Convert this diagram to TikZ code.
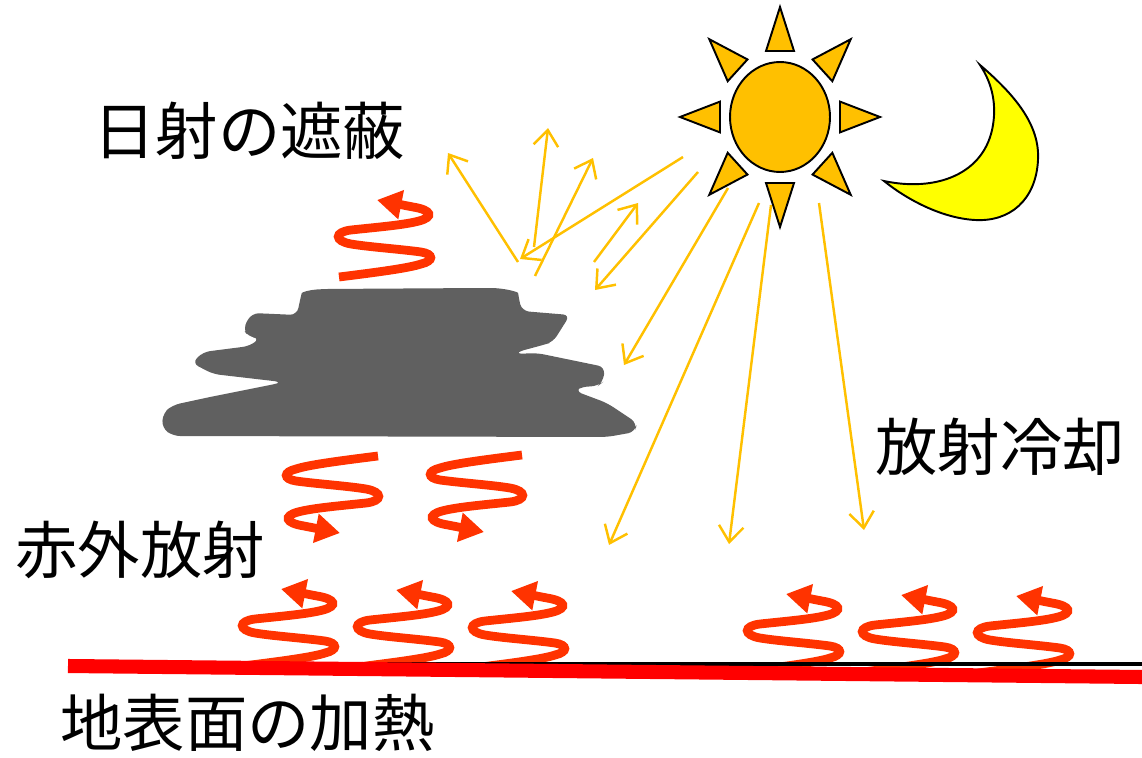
\documentclass[tikz,border=0pt]{standalone}
\usepackage{fontspec}
\newfontfamily\jpfont{Noto Sans CJK JP}
\usetikzlibrary{arrows.meta}
\definecolor{sunorange}{HTML}{FFC000}
\definecolor{moonyellow}{HTML}{FFFF00}
\definecolor{irred}{HTML}{FF3300}
\definecolor{cloudgray}{HTML}{606060}
\tikzset{jptext/.style={inner sep=0pt, anchor=west, font=\jpfont\fontsize{35.5}{40}\selectfont}}
\tikzset{ray/.style={draw=sunorange, line width=1.4pt, -{Straight Barb[length=9pt,width=14pt]}}}
\tikzset{sunpart/.style={draw=black, fill=sunorange, line width=1.1pt, line join=miter}}
\tikzset{irline/.style={draw=irred, line width=5pt, line cap=butt, -{Triangle[length=14pt,width=16pt]}}}
\tikzset{irwave/.pic={
    \draw[irline] (0,0) .. controls (40,-5) and (70,-9) .. (82,-13) .. controls (95,-16) and (95,-23) .. (82,-25)
        .. controls (60,-28) and (30,-30) .. (12,-33) .. controls (-5,-36) and (-5,-45) .. (12,-47)
        .. controls (40,-50) and (65,-52) .. (80,-56) .. controls (95,-60) and (93,-67) .. (74,-70) -- (38,-77);
}}

\begin{document}
\begin{tikzpicture}[x=0.02cm, y=-0.02cm]
    \useasboundingbox (0,0) rectangle (1142,757);

    % cloud
    \fill[cloudgray, rounded corners=4pt] (297,315) -- (300,300) .. controls (302,292) and (310,290) .. (323,289)
        -- (483,288) .. controls (505,288) and (518,292) .. (519,300) -- (522,311) -- (570,315)
        -- (553,342) -- (543,345) -- (517,352) -- (515,354) -- (537,353) -- (605,367) -- (603,382)
        -- (598,386) -- (580,387) -- (575,391) -- (607,403) -- (637,423) -- (635,432) -- (607,437)
        -- (173,436) -- (162,428) -- (163,413) -- (173,405) -- (210,397) -- (280,383) -- (282,382)
        -- (213,374) -- (192,363) -- (203,352) -- (250,346) -- (260,338) -- (248,337) -- (243,328)
        -- (252,313) -- cycle;

    % sun
    \foreach \a in {0,45,...,315}
        \draw[sunpart, shift={(780,117)}, yscale=1.1, rotate=\a] (100,0) -- (60,14) -- (60,-14) -- cycle;
    \draw[sunpart] (780,117) ellipse [x radius=1cm, y radius=1.1cm];

    % moon
    \draw[fill=moonyellow, line width=1.1pt] (980,65) .. controls (1015,95) and (1040,125) .. (1038,160)
        .. controls (1036,200) and (1010,222) .. (975,220) .. controls (940,218) and (905,198) .. (884,181)
        .. controls (935,192) and (985,175) .. (993,125) .. controls (997,100) and (990,80) .. (980,65) -- cycle;

    % sunlight and reflections
    \coordinate (refl) at (518,262);
    \draw[ray] (683,157) -- (520,259);
    \draw[ray] (refl) -- (448,153);
    \draw[ray] (534,247) -- (548,128);
    \draw[ray] (535,276) -- (593,158);
    \draw[ray] (594,262) -- (638,203);
    \draw[ray] (698,172) -- (595,290);
    \draw[ray] (728,188) -- (624,365);
    \draw[ray] (759,203) -- (609,545);
    \draw[ray] (771,205) -- (729,544);
    \draw[ray] (819,203) -- (864,530);

    % infrared
    \pic at (339,277) {irwave};
    \pic[rotate=180] at (378,456) {irwave};
    \pic[rotate=180] at (522,455) {irwave};
    \foreach \gx/\gy in {243/666,358/667,473/668,748/671,863/672,978/673}
        \pic at (\gx,\gy) {irwave};

    % ground
    \draw[line width=2.2pt] (68,664) -- (1142,664);
    \draw[red, line width=8pt] (68,666) -- (1142,677);

    \node (shade) [jptext] at (93,131) {日射の遮蔽};
    \node (irrad) [jptext] at (15,550) {赤外放射};
    \node (cool) [jptext] at (875,447) {放射冷却};
    \node (heat) [jptext] at (60,723) {地表面の加熱};
\end{tikzpicture}
\end{document}
